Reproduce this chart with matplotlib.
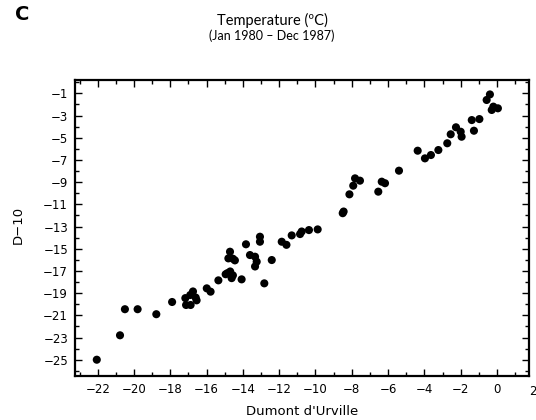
import matplotlib
matplotlib.use("Agg")
import matplotlib.pyplot as plt
import matplotlib.transforms as mtransforms
import numpy as np

# Data (Dumont d'Urville vs D-10 temperature, °C)
dumont = [-22.05, -20.77, -20.5, -19.8, -18.77, -17.9, -17.17, -17.13, -16.88, -16.9,
          -16.75, -16.6, -16.55, -15.99, -15.78, -15.35, -14.95, -14.85, -14.7, -14.62,
          -14.55, -14.07, -14.8, -14.71, -14.44, -14.55, -13.83, -13.06, -13.06, -13.61,
          -13.33, -13.24, -13.33, -12.41, -12.82, -11.86, -11.6, -11.31, -10.85, -10.76,
          -10.36, -9.88, -8.5, -8.45, -8.13, -7.92, -7.82, -7.55, -6.54, -6.35,
          -6.17, -5.4, -4.37, -3.97, -3.64, -3.23, -2.74, -2.55, -2.26, -2.0,
          -1.95, -1.39, -1.27, -0.97, -0.57, -0.39, -0.29, -0.2, 0.05]
d10 = [-25.0, -22.8, -20.45, -20.45, -20.9, -19.8, -19.45, -20.07, -20.07, -19.17,
       -18.85, -19.4, -19.65, -18.57, -18.87, -17.85, -17.3, -17.2, -17.05, -17.65,
       -17.4, -17.76, -15.87, -15.27, -16.05, -15.9, -14.6, -13.92, -14.37, -15.57,
       -15.72, -16.17, -16.6, -16.02, -18.12, -14.37, -14.65, -13.8, -13.68, -13.45,
       -13.32, -13.26, -11.8, -11.65, -10.1, -9.32, -8.66, -8.87, -9.86, -8.96,
       -9.1, -7.97, -6.17, -6.86, -6.56, -6.11, -5.5, -4.69, -4.06, -4.46,
       -4.91, -3.41, -4.37, -3.32, -1.6, -1.1, -2.5, -2.2, -2.35]

x_ticks = list(range(-22, 1, 2))
y_ticks = list(range(-25, 0, 2))
title_lines = ["Temperature (\u00baC)", "(Jan 1980 \u2013 Dec 1987)"]

W, H = 536, 420
fig = plt.figure(figsize=(W / 100, H / 100), dpi=100)
plt.rcParams['font.family'] = ['DejaVu Sans']

ax = fig.add_axes([75 / W, 1 - 375.7 / H, (529.3 - 75) / W, (375.7 - 80) / H])
ax.scatter(dumont, d10, s=34, color='black', edgecolors='none', zorder=3)

ax.set_xlim(-23.25, 1.78)
ax.set_ylim(-26.44, 0.2)

ax.set_xticks(x_ticks)
ax.set_xticklabels([f"\u2212{abs(v)}" if v < 0 else str(v) for v in x_ticks])
ax.set_xticks(np.arange(-23, 2, 1), minor=True)
ax.set_yticks(y_ticks)
ax.set_yticklabels([f"\u2212{abs(v)}" for v in y_ticks])
ax.set_yticks(np.arange(-26, 1, 1), minor=True)

ax.tick_params(which='both', direction='in', top=True, right=True, width=1.0,
               labelsize=8.5, color='black')
ax.tick_params(which='major', length=5, pad=5)
ax.tick_params(which='minor', length=3)
for sp in ax.spines.values():
    sp.set_linewidth(1.6)

# tick label "2" at the right edge (outside the x-limits)
trans = mtransforms.blended_transform_factory(ax.transData, ax.transAxes)
ax.text(2, -0.03, "2", transform=trans, ha='center', va='top', fontsize=8.5, clip_on=False)

ax.set_xlabel("Dumont d'Urville", fontsize=9.5, labelpad=7)
fig.text(18 / W, 1 - 225 / H, "D\u221210", rotation=90, ha='center', va='center', fontsize=9.5)

fig.text(272 / W, 1 - 20 / H, title_lines[0], ha='center', va='center', fontsize=10.5,
         family=['Lato', 'DejaVu Sans'])
fig.text(272 / W, 1 - 36 / H, title_lines[1], ha='center', va='center', fontsize=9,
         family=['Lato', 'DejaVu Sans'])
fig.text(22 / W, 1 - 15 / H, "C", ha='center', va='center', fontsize=14, fontweight='bold')

fig.savefig("out.png", dpi=100)
